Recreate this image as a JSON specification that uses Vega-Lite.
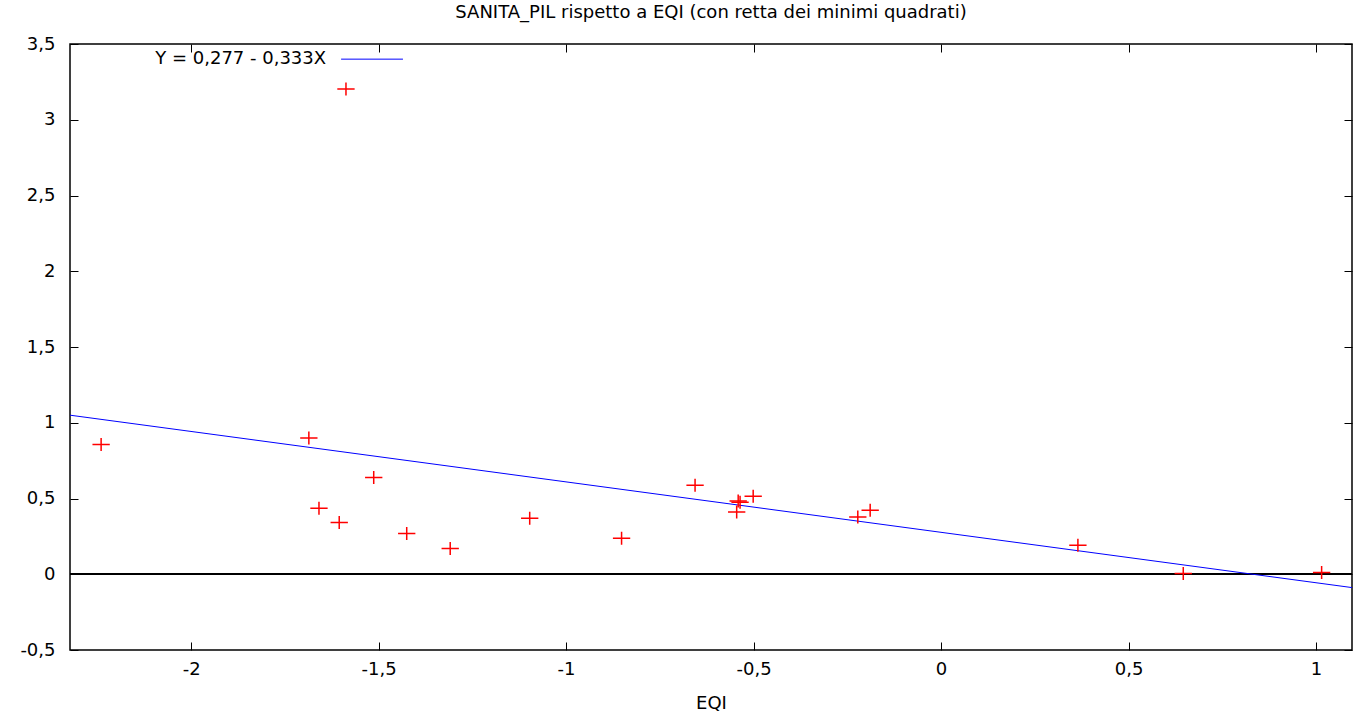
{
  "$schema": "https://vega.github.io/schema/vega-lite/v6.json",
  "width": 1282,
  "height": 606,
  "autosize": {"type": "none"},
  "padding": {"left": 70, "top": 44, "right": 8, "bottom": 67},
  "background": "white",
  "config": {
    "font": "DejaVu Sans",
    "view": {"stroke": "#000000", "strokeWidth": 1.5},
    "axis": {"grid": false, "domain": false, "tickColor": "#000000", "tickSize": -8, "tickWidth": 1, "labelFont": "DejaVu Sans", "labelFontSize": 18, "labelColor": "#000000", "titleFont": "DejaVu Sans", "titleFontSize": 18, "titleFontWeight": "normal", "titleColor": "#000000"}
  },
  "title": {"text": "SANITA_PIL rispetto a EQI (con retta dei minimi quadrati)", "font": "DejaVu Sans", "fontSize": 18, "fontWeight": "normal", "color": "#000000", "anchor": "middle", "offset": 13},
  "datasets": {
    "pts": [
      {"EQI": -2.24, "SANITA_PIL": 0.857},
      {"EQI": -1.686, "SANITA_PIL": 0.900},
      {"EQI": -1.587, "SANITA_PIL": 3.203},
      {"EQI": -1.659, "SANITA_PIL": 0.435},
      {"EQI": -1.605, "SANITA_PIL": 0.341},
      {"EQI": -1.513, "SANITA_PIL": 0.638},
      {"EQI": -1.425, "SANITA_PIL": 0.269},
      {"EQI": -1.309, "SANITA_PIL": 0.170},
      {"EQI": -1.097, "SANITA_PIL": 0.369},
      {"EQI": -0.852, "SANITA_PIL": 0.237},
      {"EQI": -0.656, "SANITA_PIL": 0.587},
      {"EQI": -0.541, "SANITA_PIL": 0.484},
      {"EQI": -0.536, "SANITA_PIL": 0.475},
      {"EQI": -0.545, "SANITA_PIL": 0.411},
      {"EQI": -0.501, "SANITA_PIL": 0.515},
      {"EQI": -0.222, "SANITA_PIL": 0.378},
      {"EQI": -0.189, "SANITA_PIL": 0.422},
      {"EQI": 0.365, "SANITA_PIL": 0.191},
      {"EQI": 0.646, "SANITA_PIL": 0.005},
      {"EQI": 1.015, "SANITA_PIL": 0.011}
    ],
    "fit": [
      {"EQI": -2.323, "SANITA_PIL": 1.050},
      {"EQI": 1.096, "SANITA_PIL": -0.088}
    ],
    "legend": [
      {"label": "Y = 0,277 - 0,333X", "x": -1.64, "x1": -1.60, "x2": -1.435, "y": 3.40}
    ]
  },
  "resolve": {"axis": {"x": "independent", "y": "independent"}},
  "layer": [
    {
      "data": {"name": "pts"},
      "mark": {"type": "rule", "color": "#000000", "strokeWidth": 1},
      "encoding": {
        "y": {"datum": 0, "type": "quantitative", "scale": {"domain": [-0.5, 3.5], "nice": false, "zero": false},
          "axis": {"orient": "left", "values": [-0.5, 0, 0.5, 1, 1.5, 2, 2.5, 3, 3.5], "labelExpr": "replace(toString(datum.value), '.', ',')", "labelPadding": 23, "title": null}}
      }
    },
    {
      "data": {"name": "fit"},
      "mark": {"type": "line", "color": "#0000ff", "strokeWidth": 1, "clip": true},
      "encoding": {
        "x": {"field": "EQI", "type": "quantitative", "scale": {"domain": [-2.323, 1.096], "nice": false, "zero": false},
          "axis": {"orient": "bottom", "values": [-2, -1.5, -1, -0.5, 0, 0.5, 1], "labelExpr": "replace(toString(datum.value), '.', ',')", "labelPadding": 18, "title": "EQI", "titlePadding": 16}},
        "y": {"field": "SANITA_PIL", "type": "quantitative",
          "axis": {"orient": "right", "values": [-0.5, 0, 0.5, 1, 1.5, 2, 2.5, 3, 3.5], "labels": false, "title": null}}
      }
    },
    {
      "data": {"name": "pts"},
      "mark": {"type": "point", "shape": "M-1,0L1,0M0,-0.75L0,0.75", "size": 300, "stroke": "#ff0000", "strokeWidth": 1.5, "filled": false, "opacity": 1},
      "encoding": {
        "x": {"field": "EQI", "type": "quantitative",
          "axis": {"orient": "top", "values": [-2, -1.5, -1, -0.5, 0, 0.5, 1], "labels": false, "title": null}},
        "y": {"field": "SANITA_PIL", "type": "quantitative", "axis": null}
      }
    },
    {
      "data": {"name": "legend"},
      "mark": {"type": "text", "align": "right", "baseline": "middle", "fontSize": 18, "font": "DejaVu Sans", "color": "#000000"},
      "encoding": {
        "x": {"field": "x", "type": "quantitative", "axis": null},
        "y": {"field": "y", "type": "quantitative", "axis": null},
        "text": {"field": "label"}
      }
    },
    {
      "data": {"name": "legend"},
      "mark": {"type": "rule", "color": "#0000ff", "strokeWidth": 1},
      "encoding": {
        "x": {"field": "x1", "type": "quantitative", "axis": null},
        "x2": {"field": "x2"},
        "y": {"field": "y", "type": "quantitative", "axis": null}
      }
    }
  ]
}
